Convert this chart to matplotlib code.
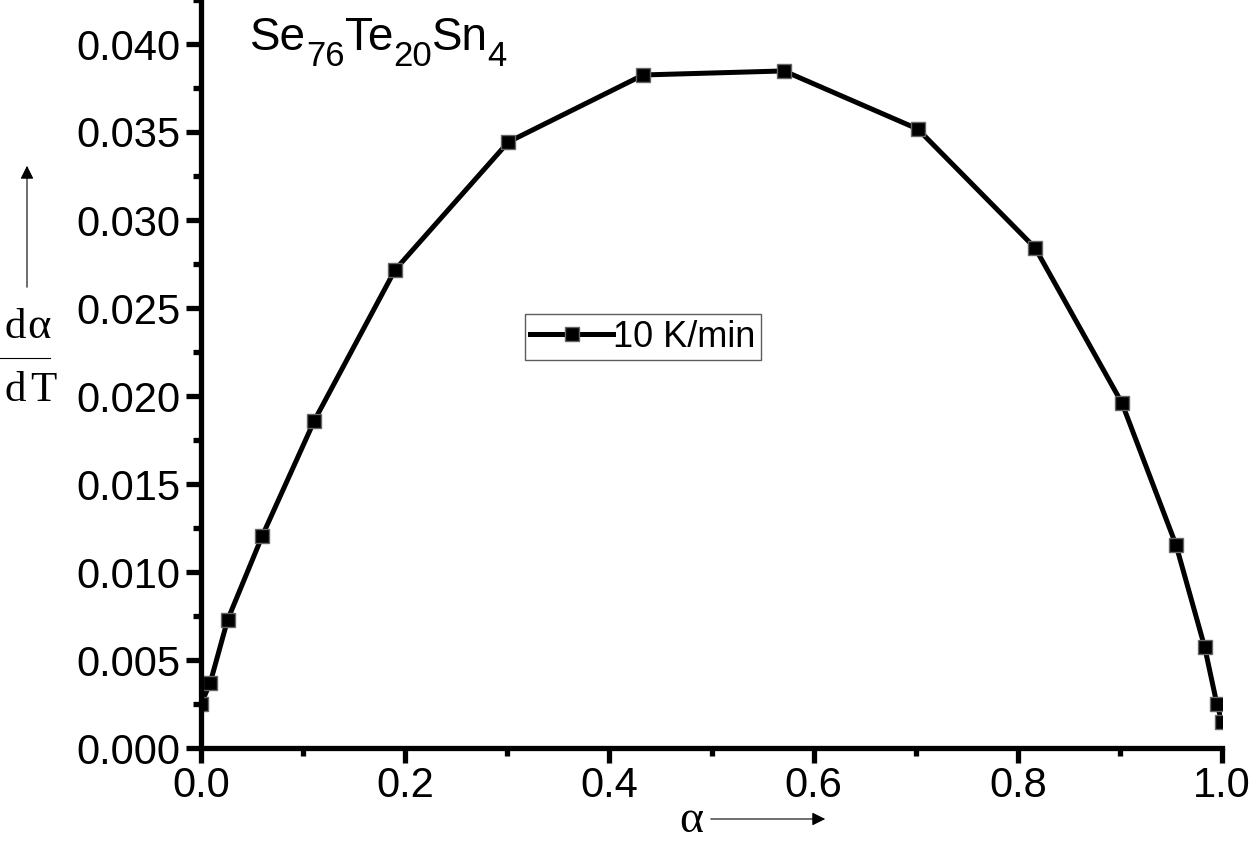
import numpy as np
import matplotlib
matplotlib.use("Agg")
import matplotlib.pyplot as plt
from matplotlib.ticker import MultipleLocator, FormatStrFormatter
from matplotlib.patches import FancyArrowPatch

plt.rcParams['font.family'] = ['Liberation Sans', 'DejaVu Sans']

# data
alpha = [0.0, 0.009, 0.026, 0.060, 0.111, 0.190, 0.301, 0.433, 0.571,
         0.702, 0.817, 0.902, 0.955, 0.983, 0.995, 1.0]
dadT = [0.00250, 0.00370, 0.00727, 0.01205, 0.01860, 0.02716, 0.03443, 0.03824,
        0.03847, 0.03517, 0.02841, 0.01960, 0.01153, 0.00574, 0.00250, 0.00148]
series_label = "10 K/min"
# composition label pieces: (text, is_subscript)
title_parts = [("Se", False), ("76", True), ("Te", False), ("20", True),
               ("Sn", False), ("4", True)]

W, H = 1259, 844
fig = plt.figure(figsize=(W / 100, H / 100), dpi=100)
ax = fig.add_axes([201/W, 1 - 748/H, 1021/W, 748/H])

ax.plot(alpha, dadT, color='black', lw=3.6, marker='s', ms=10,
        mfc='black', mec='#666666', mew=1.0, label=series_label)

ax.set_xlim(0, 1.0)
ax.set_ylim(0, 0.0425)
ax.spines['top'].set_visible(False)
ax.spines['right'].set_visible(False)
for s in ('left', 'bottom'):
    ax.spines[s].set_linewidth(3.8)

ax.xaxis.set_major_locator(MultipleLocator(0.2))
ax.xaxis.set_minor_locator(MultipleLocator(0.1))
ax.yaxis.set_major_locator(MultipleLocator(0.005))
ax.yaxis.set_minor_locator(MultipleLocator(0.0025))
ax.xaxis.set_major_formatter(FormatStrFormatter('%.1f'))
ax.yaxis.set_major_formatter(FormatStrFormatter('%.3f'))
ax.tick_params(which='major', direction='out', length=11, width=3.8, labelsize=30, pad=4)
ax.tick_params(which='minor', direction='out', length=6, width=3.8)
ax.tick_params(axis='x', which='major', pad=2)

# composition label drawn piece by piece so subscripts sit like the original
renderer = fig.canvas.get_renderer()
xpix = 250
for txt, sub in title_parts:
    size = 25 if sub else 33
    base = 66 if sub else 50
    t = fig.text(xpix / W, 1 - base / H, txt, fontsize=size, ha='left', va='baseline')
    bb = t.get_window_extent(renderer)
    xpix += bb.width

leg = ax.legend(loc='upper left', bbox_to_anchor=(0.317, 0.580), borderaxespad=0,
                fontsize=26, frameon=True, fancybox=False, handlelength=2.3,
                handletextpad=0.0, borderpad=0.15)
leg.get_frame().set_edgecolor('#333333')
leg.get_frame().set_linewidth(1.0)

serif = 'Liberation Serif'
# y label: d alpha / dT with upward arrow
fig.text(4/W, 1 - 338/H, 'd', family=serif, fontsize=31, ha='left', va='baseline')
fig.text(27/W, 1 - 338/H, '\u03b1', family=serif, fontsize=32, ha='left', va='baseline')
fig.text(4/W, 1 - 401/H, 'd', family=serif, fontsize=31, ha='left', va='baseline')
fig.text(30/W, 1 - 401/H, 'T', family=serif, fontsize=31, ha='left', va='baseline')
fig.add_artist(plt.Line2D([0/W, 50/W], [1 - 358/H, 1 - 358/H],
                          color='black', lw=0.8, transform=fig.transFigure))
fig.add_artist(FancyArrowPatch(
    (27/W, 1 - 290/H), (27/W, 1 - 163/H), transform=fig.transFigure,
    arrowstyle='-|>', mutation_scale=20, color='black', lw=0.8))

# x label: alpha with right arrow
fig.text(691/W, 1 - 832/H, '\u03b1', family=serif, fontsize=33,
         ha='center', va='baseline')
fig.add_artist(FancyArrowPatch(
    (708/W, 1 - 819/H), (828/W, 1 - 819/H), transform=fig.transFigure,
    arrowstyle='-|>', mutation_scale=20, color='black', lw=0.8))

fig.savefig('out.png', dpi=100)
